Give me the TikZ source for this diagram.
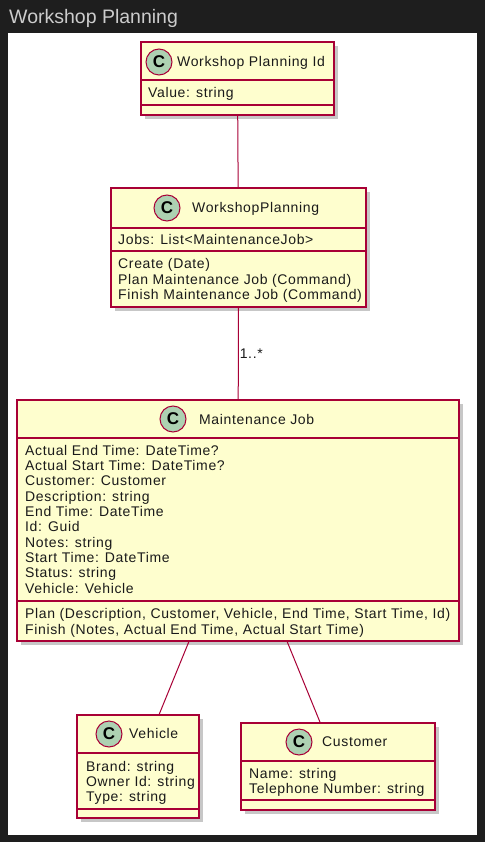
\documentclass[tikz,border=0pt]{standalone}
\usepackage{fontspec}
\setmainfont{Liberation Sans}
\usetikzlibrary{shadows}
\definecolor{darkbg}{HTML}{1E1E1E}
\definecolor{umlred}{HTML}{A80036}
\definecolor{umlfill}{HTML}{FEFECE}
\definecolor{umlgreen}{HTML}{ADD1B2}
\definecolor{titlegray}{HTML}{CCCCCC}
\definecolor{txt}{HTML}{1A1A1A}
\newfontfamily\umlfont[LetterSpace=4.6]{Liberation Sans}
\tikzset{
  cls/.style={rectangle, draw=umlred, fill=umlfill, line width=1.5pt, inner sep=0pt, outer sep=0pt, anchor=north west,
    drop shadow={shadow xshift=4pt, shadow yshift=-4pt, fill=black, opacity=0.22}},
  sepline/.style={draw=umlred, line width=1.5pt},
  badge/.style={circle, draw=umlred, fill=umlgreen, line width=1pt, minimum size=26pt, inner sep=0pt,
    font=\fontsize{17}{17}\selectfont\bfseries, text=black},
  head/.style={anchor=base west, inner sep=0pt, text=txt, font=\umlfont\fontsize{14}{14}\selectfont},
  member/.style={anchor=base west, inner sep=0pt, text=txt, font=\umlfont\fontsize{14}{14}\selectfont},
  link/.style={draw=umlred, line width=1pt},
}
\begin{document}
\begin{tikzpicture}[x=1pt,y=-1pt]
\useasboundingbox (0,0) rectangle (485,842);
\fill[darkbg] (0,0) rectangle (485,842);
\fill[white] (8,33) rectangle (477,835);
\node[anchor=base west, inner sep=0pt, text=titlegray, font=\fontsize{19.5}{19.5}\selectfont] (title) at (9,24) {Workshop Planning};

% Workshop Planning Id
\node[cls, minimum width=193pt, minimum height=73pt] (id) at (141,42) {};
\draw[sepline] (141,80) -- (334,80);
\draw[sepline] (141,105) -- (334,105);
\node[badge] (idc) at (159,62) {C};
\node[head] (idh) at (177,67) {Workshop Planning Id};
\node[member] (ida) at (148,98) {Value: string};

% WorkshopPlanning
\node[cls, minimum width=255pt, minimum height=119pt] (wp) at (111,188) {};
\draw[sepline] (111,228) -- (366,228);
\draw[sepline] (111,251) -- (366,251);
\node[badge] (wpc) at (167,208) {C};
\node[head] (wph) at (192,213) {WorkshopPlanning};
\node[member] (wpa) at (118,244) {Jobs: List<MaintenanceJob>};
\node[member] (wpm1) at (118,268) {Create (Date)};
\node[member] (wpm2) at (118,284) {Plan Maintenance Job (Command)};
\node[member] (wpm3) at (118,299) {Finish Maintenance Job (Command)};

% Maintenance Job
\node[cls, minimum width=442pt, minimum height=241pt] (mj) at (17,400) {};
\draw[sepline] (17,438) -- (459,438);
\draw[sepline] (17,601) -- (459,601);
\node[badge] (mjc) at (173,419) {C};
\node[head] (mjh) at (199,424) {Maintenance Job};
\node[member] (mja1) at (25,455) {Actual End Time: DateTime?};
\node[member] (mja2) at (25,470.33) {Actual Start Time: DateTime?};
\node[member] (mja3) at (25,485.67) {Customer: Customer};
\node[member] (mja4) at (25,501) {Description: string};
\node[member] (mja5) at (25,516.33) {End Time: DateTime};
\node[member] (mja6) at (25,531.67) {Id: Guid};
\node[member] (mja7) at (25,547) {Notes: string};
\node[member] (mja8) at (25,562.33) {Start Time: DateTime};
\node[member] (mja9) at (25,577.67) {Status: string};
\node[member] (mja10) at (25,593) {Vehicle: Vehicle};
\node[member] (mjm1) at (25,618) {Plan (Description, Customer, Vehicle, End Time, Start Time, Id)};
\node[member] (mjm2) at (25,634) {Finish (Notes, Actual End Time, Actual Start Time)};

% Vehicle
\node[cls, minimum width=122pt, minimum height=103pt] (veh) at (77,715) {};
\draw[sepline] (77,753) -- (199,753);
\draw[sepline] (77,809) -- (199,809);
\node[badge] (vehc) at (109,734) {C};
\node[head] (vehh) at (129,738) {Vehicle};
\node[member] (veha1) at (86,771) {Brand: string};
\node[member] (veha2) at (86,786) {Owner Id: string};
\node[member] (veha3) at (86,801) {Type: string};

% Customer
\node[cls, minimum width=194pt, minimum height=87pt] (cust) at (241,723) {};
\draw[sepline] (241,761) -- (435,761);
\draw[sepline] (241,800) -- (435,800);
\node[badge] (custc) at (299,742) {C};
\node[head] (custh) at (322,746) {Customer};
\node[member] (custa1) at (249,778) {Name: string};
\node[member] (custa2) at (249,793) {Telephone Number: string};

% links
\draw[link] (id) -- (wp);
\draw[link] (wp) -- node[pos=0.5, right=1pt, inner sep=0pt, text=txt, font=\umlfont\fontsize{14}{14}\selectfont] (mult) {1..*} (mj);
\draw[link] (mj) -- (veh);
\draw[link] (mj) -- (cust);
\end{tikzpicture}
\end{document}
